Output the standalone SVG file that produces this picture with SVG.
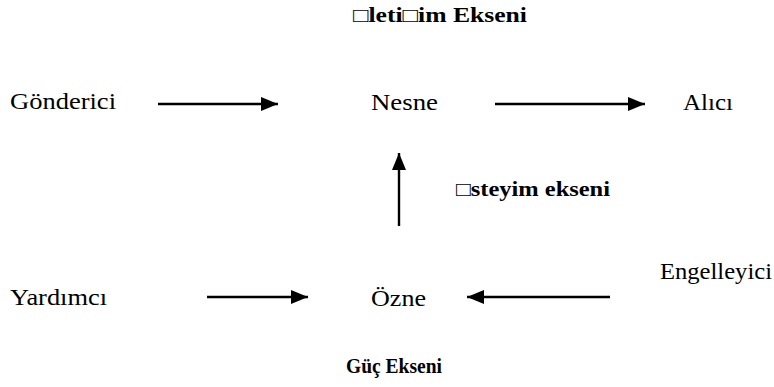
<svg xmlns="http://www.w3.org/2000/svg" width="774" height="387" viewBox="0 0 774 387">
<style>
  .t { font-family: "Liberation Serif", "DejaVu Serif", serif; font-size: 23px; fill: #000; }
  .b { font-family: "Liberation Serif", "DejaVu Serif", serif; font-size: 20px; font-weight: bold; fill: #000; }
  .c { stroke: #000; stroke-width: 2.4; fill: none; }
</style>
<defs>
  <marker id="ah" markerUnits="userSpaceOnUse" markerWidth="17" markerHeight="14" refX="17" refY="7" orient="auto">
    <path d="M0,0 L17,7 L0,14 Z" fill="#000"/>
  </marker>
</defs>
<rect width="774" height="387" fill="#fff"/>
<g id="title-iletisim"><text class="b" x="353" y="22" textLength="174" lengthAdjust="spacingAndGlyphs">□leti□im Ekseni</text></g>
<g id="node-gonderici"><text class="t" x="10" y="109" textLength="106" lengthAdjust="spacingAndGlyphs">Gönderici</text></g>
<g id="node-nesne"><text class="t" x="371" y="110" textLength="67" lengthAdjust="spacingAndGlyphs">Nesne</text></g>
<g id="node-alici"><text class="t" x="683" y="110" textLength="50" lengthAdjust="spacingAndGlyphs">Alıcı</text></g>
<g id="label-isteyim"><text class="b" x="456" y="196" textLength="154" lengthAdjust="spacingAndGlyphs">□steyim ekseni</text></g>
<g id="node-yardimci"><text class="t" x="10" y="305" textLength="97" lengthAdjust="spacingAndGlyphs">Yardımcı</text></g>
<g id="node-ozne"><text class="t" x="371" y="306" textLength="55" lengthAdjust="spacingAndGlyphs">Özne</text></g>
<g id="node-engelleyici"><text class="t" x="660" y="279" textLength="112" lengthAdjust="spacingAndGlyphs">Engelleyici</text></g>
<g id="title-guc"><text class="b" x="346" y="373" textLength="96" lengthAdjust="spacingAndGlyphs">Güç Ekseni</text></g>
<g id="connectors">
  <line class="c" x1="158" y1="104" x2="278" y2="104" marker-end="url(#ah)"/>
  <line class="c" x1="495" y1="104" x2="645" y2="104" marker-end="url(#ah)"/>
  <line class="c" x1="399" y1="226" x2="399" y2="153" marker-end="url(#ah)"/>
  <line class="c" x1="207" y1="297" x2="308" y2="297" marker-end="url(#ah)"/>
  <line class="c" x1="610" y1="297" x2="467" y2="297" marker-end="url(#ah)"/>
</g>
</svg>
